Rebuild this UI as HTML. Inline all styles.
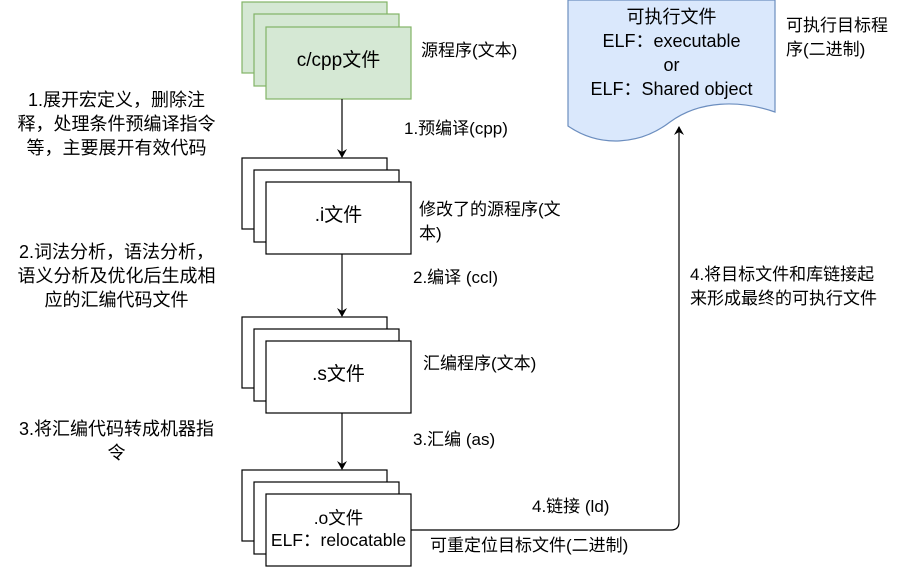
<!DOCTYPE html>
<html><head><meta charset="utf-8"><style>
body{margin:0;width:906px;height:570px;background:#fff;overflow:hidden;font-family:"Liberation Sans","Noto Sans CJK SC",sans-serif;}
.t{position:absolute;font-size:17px;color:#000;line-height:21px;white-space:nowrap}
.c{text-align:center}
</style></head><body>
<svg width="906" height="570" style="position:absolute;left:0;top:0">
<defs><marker id="a" markerWidth="10" markerHeight="10" refX="8" refY="5" orient="auto" markerUnits="userSpaceOnUse"><path d="M0,0 L9,5 L0,10 L3,5 Z" fill="#000"/></marker></defs>
<g fill="#d5e8d4" stroke="#82b366" stroke-width="1.2">
<rect x="242" y="2" width="145" height="71"/><rect x="254" y="14" width="145" height="72"/><rect x="266" y="27" width="145" height="72"/></g>
<g fill="#fff" stroke="#000" stroke-width="1.2">
<rect x="242" y="158" width="145" height="71"/><rect x="254" y="170" width="145" height="72"/><rect x="266" y="182" width="145" height="72"/>
<rect x="242" y="317" width="145" height="71"/><rect x="254" y="329" width="145" height="72"/><rect x="266" y="341" width="145" height="72"/>
<rect x="242" y="470" width="145" height="71"/><rect x="254" y="482" width="145" height="72"/><rect x="266" y="494" width="145" height="72"/></g>
<path d="M568,0 H775 V112 C740,100 700,100 670,122 C640,145 600,148 568,126 Z" fill="#dae8fc" stroke="#6c8ebf" stroke-width="1.2"/>
<g stroke="#000" stroke-width="1.2" fill="none">
<line x1="342" y1="99" x2="342" y2="157" marker-end="url(#a)"/>
<line x1="342" y1="254" x2="342" y2="316" marker-end="url(#a)"/>
<line x1="342" y1="413" x2="342" y2="469" marker-end="url(#a)"/>
<path d="M411,530 H671 Q679,530 679,522 V127" marker-end="url(#a)"/>
</g></svg>
<div class="t" style="left:266px;top:50px;width:145px;text-align:center;font-size:19px">c/cpp文件</div>
<div class="t" style="left:266px;top:205px;width:145px;text-align:center;font-size:19px">.i文件</div>
<div class="t" style="left:266px;top:364px;width:145px;text-align:center;font-size:19px">.s文件</div>
<div class="t c" style="left:266px;top:507px;width:145px;font-size:17.5px;line-height:22px">.o文件<br>ELF：relocatable</div>
<div class="t c" style="left:568px;top:5px;width:207px;font-size:18px;line-height:24px">可执行文件<br>ELF：executable<br>or<br>ELF：Shared object</div>
<div class="t" style="left:421px;top:40px">源程序(文本)</div>
<div class="t" style="left:404px;top:118px">1.预编译(cpp)</div>
<div class="t" style="left:419px;top:198px;line-height:24px">修改了的源程序(文<br>本)</div>
<div class="t" style="left:413px;top:267px">2.编译 (ccl)</div>
<div class="t" style="left:423px;top:353px">汇编程序(文本)</div>
<div class="t" style="left:413px;top:429px">3.汇编 (as)</div>
<div class="t" style="left:532px;top:496px">4.链接 (ld)</div>
<div class="t" style="left:430px;top:535px">可重定位目标文件(二进制)</div>
<div class="t" style="left:786px;top:14px;line-height:24px">可执行目标程<br>序(二进制)</div>
<div class="t" style="left:690px;top:263px;line-height:24px">4.将目标文件和库链接起<br>来形成最终的可执行文件</div>
<div class="t c" style="left:0;top:88px;width:233px;line-height:24px;font-size:18px">1.展开宏定义，删除注<br>释，处理条件预编译指令<br>等，主要展开有效代码</div>
<div class="t c" style="left:0;top:240px;width:233px;line-height:24px;font-size:18px">2.词法分析，语法分析，<br>语义分析及优化后生成相<br>应的汇编代码文件</div>
<div class="t c" style="left:0;top:417px;width:233px;line-height:24px;font-size:18px">3.将汇编代码转成机器指<br>令</div>
</body></html>
